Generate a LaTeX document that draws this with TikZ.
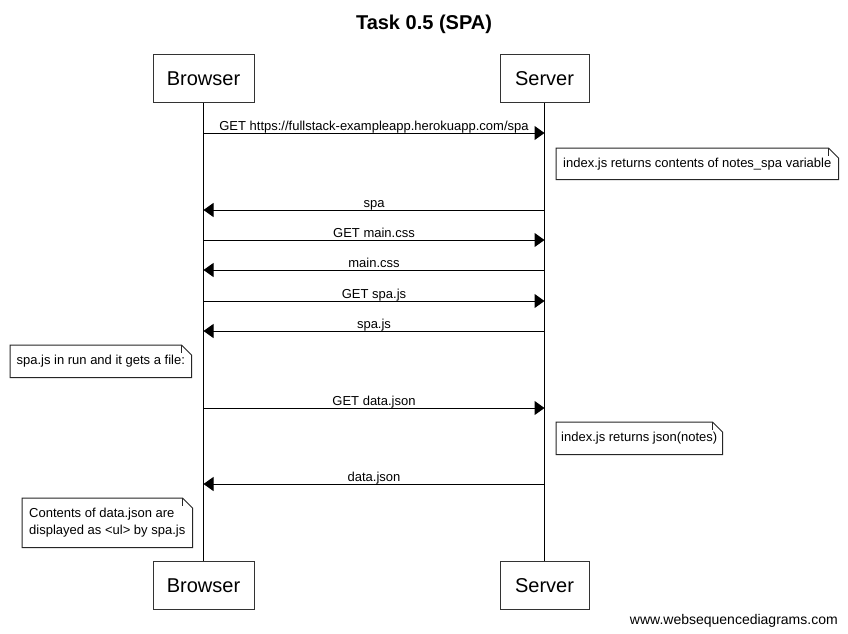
\documentclass[tikz,border=0pt]{standalone}
\usepackage{fontspec}
\setmainfont{Liberation Sans}
\usetikzlibrary{arrows.meta}
\newcommand\msgline[4]{%
  \coordinate (f#1) at (#2 |- 0,#1);
  \coordinate (t#1) at (#3 |- 0,#1);
  \draw[msg] (f#1) -- (t#1) node[lbl, midway, yshift=1.9pt] {#4};}
\newcommand\notedraw[1]{%
  \draw[noteline] (#1.north west) -- ([xshift=-7.5pt]#1.north east) -- ([yshift=-7.5pt]#1.north east) -- (#1.south east) -- (#1.south west) -- cycle;
  \draw[noteline] ([xshift=-7.5pt]#1.north east) -- ([xshift=-7.5pt,yshift=-6pt]#1.north east);}
\begin{document}
\begin{tikzpicture}[x=0.75pt,y=-0.75pt,
  actor/.style={draw=black!80, line width=0.75pt, minimum height=36pt, font=\fontsize{15}{18}\selectfont, inner sep=0pt},
  lifeline/.style={line width=0.75pt},
  msg/.style={line width=0.75pt, -{Triangle[length=7.5pt,width=10.5pt]}},
  lbl/.style={font=\fontsize{9.75}{12}\selectfont, anchor=base, inner sep=0pt},
  note/.style={font=\fontsize{9.75}{12.75}\selectfont, inner sep=0pt, align=left, anchor=north west},
  noteline/.style={line width=0.75pt, draw=black!85}]
\useasboundingbox (0,0) rectangle (848,633);
\fill[white] (0,0) rectangle (848,633);

\node[anchor=base, font=\bfseries\fontsize{15}{18}\selectfont] (title) at (424,29) {Task 0.5 (SPA)};

\node[actor, minimum width=75.75pt] (bt) at (203.5,78.5) {Browser};
\node[actor, minimum width=66.75pt] (st) at (544.5,78.5) {Server};
\node[actor, minimum width=75.75pt] (bb) at (203.5,585.5) {Browser};
\node[actor, minimum width=66.75pt] (sb) at (544.5,585.5) {Server};

\draw[lifeline] (bt.south) -- (bb.north);
\draw[lifeline] (st.south) -- (sb.north);

\msgline{133}{bt}{st}{GET https://fullstack-exampleapp.herokuapp.com/spa}
\msgline{210}{st}{bt}{spa}
\msgline{240}{bt}{st}{GET main.css}
\msgline{270}{st}{bt}{main.css}
\msgline{301}{bt}{st}{GET spa.js}
\msgline{331}{st}{bt}{spa.js}
\msgline{408}{bt}{st}{GET data.json}
\msgline{484}{st}{bt}{data.json}

\node[note, minimum width=211.5pt, minimum height=23.25pt] (n1) at (556,148) {index.js returns contents of notes\_spa variable};
\notedraw{n1}
\node[note, minimum width=135.75pt, minimum height=24pt] (n2) at (10,345) {spa.js in run and it gets a file:};
\notedraw{n2}
\node[note, minimum width=124.5pt, minimum height=24pt] (n3) at (556,422) {index.js returns json(notes)};
\notedraw{n3}
\node[note, minimum width=127.5pt, minimum height=36.75pt] (n4) at (22,498) {Contents of data.json are\\displayed as <ul> by spa.js};
\notedraw{n4}

\node[anchor=base east, font=\fontsize{10.5}{12}\selectfont, inner sep=0pt] (wm) at (838,624) {www.websequencediagrams.com};
\end{tikzpicture}
\end{document}
